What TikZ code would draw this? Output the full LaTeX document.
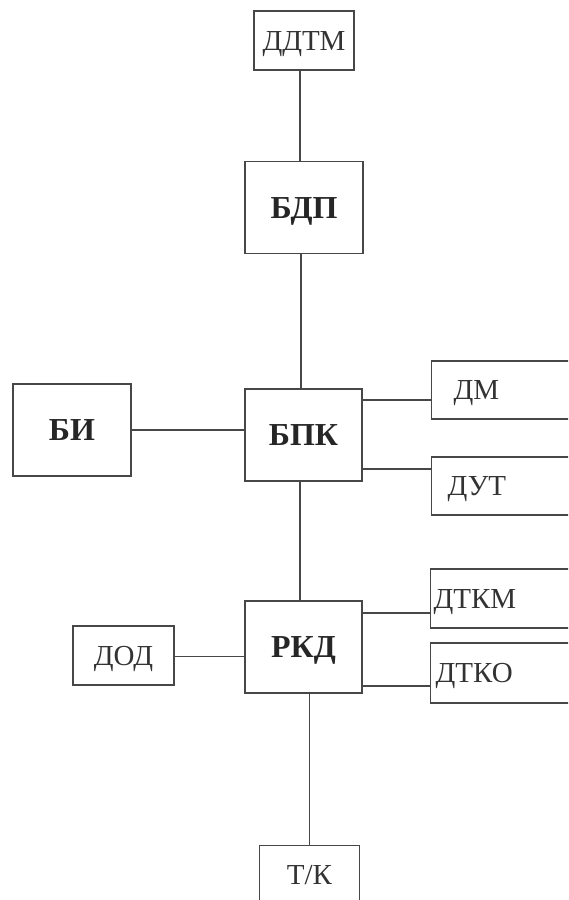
\documentclass[tikz,border=0pt]{standalone}
\usepackage{fontspec}
\setmainfont{Liberation Serif}
\usepackage{xcolor}
\usepackage{tikz}
\usetikzlibrary{positioning,calc}

\begin{document}
\begin{tikzpicture}[x=1pt,y=-1pt,line width=1.3pt,draw=black!72]
	\tikzstyle{small}=[draw=black!72,rectangle,minimum width=100pt,minimum height=59pt,inner sep=0pt,text height=19.2pt,text depth=0pt,font=\fontsize{29}{31}\selectfont,text=black!80]
	\tikzstyle{big}=[draw=black!72,rectangle,minimum width=117pt,minimum height=92pt,inner sep=0pt,text height=21.6pt,text depth=0pt,font=\fontsize{32}{34}\selectfont\bfseries,text=black!85]
	\tikzstyle{side}=[small,anchor=west,text width=140pt,align=left,minimum height=58pt]
	
	\useasboundingbox (0,0) rectangle (568,900);
	\clip (0,0) rectangle (568,900);
	
	% main column
	\node[small](ddtm) at (304,40.5){ДДТМ};
	\node[big,minimum width=118pt](bdp) at (304,207.5){БДП};
	\node[big](bpk) at (303.5,435){БПК};
	\node[big](rkd) at (303.5,647){РКД};
	\node[small,anchor=north](tk) at (309.5,845){Т/К};
	
	% left
	\node[big,minimum width=118pt](bi) at (72,430){БИ};
	\node[small,minimum width=101pt](dod) at (123.5,655.5){ДОД};
	
	% right
	\node[side,inner xsep=22pt](dm) at (431,390){ДМ};
	\node[side,inner xsep=16pt](dut) at (431,486){ДУТ};
	\node[side,inner xsep=3pt,minimum height=59pt](dtkm) at (430,598.5){ДТКМ};
	\node[side,inner xsep=5pt,minimum height=60pt](dtko) at (430,673){ДТКО};
	
	\draw ([xshift=-4pt]ddtm.south) -- ([xshift=-4pt]bdp.north);
	\draw ([xshift=-3pt]bdp.south) -- ([xshift=-2.5pt]bpk.north);
	\draw ([xshift=-3.5pt]bpk.south) -- ([xshift=-3.5pt]rkd.north);
	\draw (rkd.south -| tk.north) -- (tk.north);
	\draw (bi.east) -- (bi.east -| bpk.west);
	\draw ([yshift=-1pt]dod.east) -- ([yshift=-1pt]dod.east -| rkd.west);
	\draw ([yshift=35pt]bpk.east) -- ([yshift=35pt]bpk.east -| dm.west);
	\draw ([yshift=-34pt]bpk.east) -- ([yshift=-34pt]bpk.east -| dut.west);
	\draw ([yshift=34pt]rkd.east) -- ([yshift=34pt]rkd.east -| dtkm.west);
	\draw ([yshift=-39pt]rkd.east) -- ([yshift=-39pt]rkd.east -| dtko.west);
\end{tikzpicture}
\end{document}
